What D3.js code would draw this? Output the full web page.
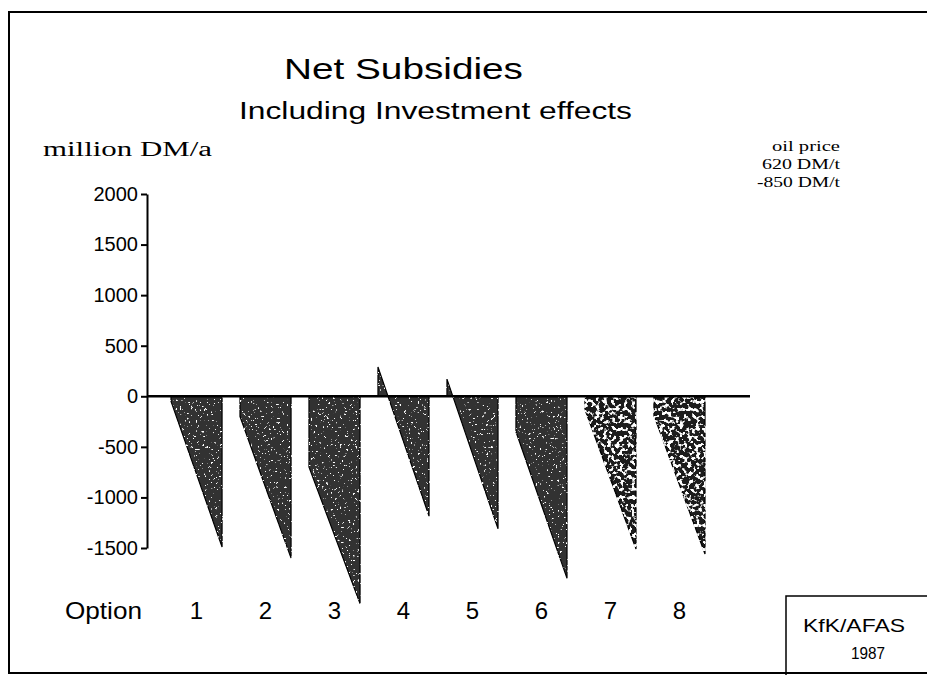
<!DOCTYPE html>
<meta charset="utf-8">
<style>
body { margin: 0; background: #fff; }
.axis .domain { stroke: #000; stroke-width: 2; }
.axis .tick line { stroke: #000; stroke-width: 2; }
.axis text { font-family: "Liberation Sans", Arial, sans-serif; font-size: 20px; fill: #000; }
.xaxis .domain { display: none; }
.xaxis text { font-family: "Liberation Sans", Arial, sans-serif; font-size: 24px; fill: #000; }
.serif { font-family: "Liberation Serif", "DejaVu Serif", serif; fill: #000; }
.sans { font-family: "Liberation Sans", Arial, sans-serif; fill: #000; }
</style>
<svg width="927" height="675"></svg>
<script src="https://cdn.jsdelivr.net/npm/d3@7"></script>
<script>
// net subsidies in million DM/a, oil price 620 DM/t (left) -> 850 DM/t (right)
var options = ["1", "2", "3", "4", "5", "6", "7", "8"];
var at620 = [-50, -200, -700, 290, 170, -350, -130, -190];
var at850 = [-1490, -1600, -2050, -1185, -1310, -1800, -1510, -1560];
var yTicks = [-1500, -1000, -500, 0, 500, 1000, 1500, 2000];

var svg = d3.select("svg");

var x = d3.scaleBand()
    .domain(options)
    .range([171, 705])
    .paddingInner(0.26)
    .paddingOuter(0);

var y = d3.scaleLinear()
    .domain([-1500, 2000])
    .range([548, 194]);

var axisX = 147;

// frame
svg.append("path")
    .attr("d", "M927,12 L9,12 L9,673 L927,673")
    .attr("fill", "none")
    .attr("stroke", "#000")
    .attr("stroke-width", 2);

// speckle texture
var defs = svg.append("defs");
function speckle(id, freq, slope, cut) {
  var f = defs.append("filter").attr("id", id)
      .attr("x", "-5%").attr("y", "-5%").attr("width", "110%").attr("height", "110%");
  f.append("feTurbulence")
      .attr("type", "fractalNoise")
      .attr("baseFrequency", freq)
      .attr("numOctaves", 2)
      .attr("seed", 7)
      .attr("result", "noise");
  f.append("feColorMatrix")
      .attr("in", "noise")
      .attr("type", "matrix")
      .attr("values", "0 0 0 0 1  0 0 0 0 1  0 0 0 0 1  " + slope + " 0 0 0 " + (-cut * slope))
      .attr("result", "spots");
  f.append("feComposite")
      .attr("in", "spots").attr("in2", "SourceAlpha")
      .attr("operator", "in").attr("result", "clipped");
  var m = f.append("feMerge");
  m.append("feMergeNode").attr("in", "SourceGraphic");
  m.append("feMergeNode").attr("in", "clipped");
}
speckle("speckFine", 0.45, 14, 0.67);
speckle("speckCoarse", 0.25, 10, 0.52);

var area = d3.area()
    .x(function(d) { return d.x; })
    .y0(y(0))
    .y1(function(d) { return y(d.v); });

svg.append("g")
  .selectAll("path")
  .data(options)
  .enter().append("path")
    .attr("d", function(d, i) {
      return area([{x: x(d), v: at620[i]}, {x: x(d) + x.bandwidth(), v: at850[i]}]);
    })
    .attr("fill", function(d, i) { return i >= 6 ? "#1a1a1a" : "#333"; })
    .attr("stroke", "#000")
    .attr("stroke-width", 1.2)
    .attr("filter", function(d, i) { return i >= 6 ? "url(#speckCoarse)" : "url(#speckFine)"; });

// zero line
svg.append("line")
    .attr("x1", axisX).attr("x2", 750)
    .attr("y1", y(0)).attr("y2", y(0))
    .attr("stroke", "#000")
    .attr("stroke-width", 2.5);

// y axis
svg.append("g")
    .attr("class", "axis")
    .attr("transform", "translate(" + axisX + ",0)")
    .call(d3.axisLeft(y).tickValues(yTicks).tickSize(6).tickSizeOuter(0).tickPadding(3)
      .tickFormat(function(d) { return String(d); }));

// option labels
var xa = svg.append("g")
    .attr("class", "xaxis")
    .attr("transform", "translate(0,619)")
    .call(d3.axisBottom(x).tickSize(0).tickPadding(0));
xa.selectAll(".tick text").attr("dy", "0");

svg.append("text").attr("class", "sans")
    .attr("x", 65).attr("y", 619)
    .attr("font-size", 24)
    .attr("textLength", 77).attr("lengthAdjust", "spacingAndGlyphs")
    .text("Option");

// titles
svg.append("text").attr("class", "sans")
    .attr("x", 284).attr("y", 79)
    .attr("font-size", 29)
    .attr("textLength", 239).attr("lengthAdjust", "spacingAndGlyphs")
    .text("Net Subsidies");
svg.append("text").attr("class", "sans")
    .attr("x", 239).attr("y", 119)
    .attr("font-size", 23)
    .attr("textLength", 393).attr("lengthAdjust", "spacingAndGlyphs")
    .text("Including Investment effects");

svg.append("text").attr("class", "serif")
    .attr("x", 43).attr("y", 156)
    .attr("font-size", 20)
    .attr("textLength", 169).attr("lengthAdjust", "spacingAndGlyphs")
    .text("million DM/a");

var oilLines = ["oil price", "620 DM/t", "-850 DM/t"];
var oilWidths = [68, 78, 83];
svg.append("g")
  .selectAll("text")
  .data(oilLines)
  .enter().append("text")
    .attr("class", "serif")
    .attr("x", function(d, i) { return 840 - oilWidths[i]; })
    .attr("y", function(d, i) { return 151 + i * 18; })
    .attr("font-size", 15)
    .attr("textLength", function(d, i) { return oilWidths[i]; })
    .attr("lengthAdjust", "spacingAndGlyphs")
    .text(function(d) { return d; });

// source box
svg.append("rect")
    .attr("x", 786).attr("y", 596)
    .attr("width", 150).attr("height", 80)
    .attr("fill", "none")
    .attr("stroke", "#000")
    .attr("stroke-width", 1.5);
svg.append("text").attr("class", "sans")
    .attr("x", 803).attr("y", 632)
    .attr("font-size", 19)
    .attr("textLength", 102).attr("lengthAdjust", "spacingAndGlyphs")
    .text("KfK/AFAS");
svg.append("text").attr("class", "sans")
    .attr("x", 851).attr("y", 659)
    .attr("font-size", 17)
    .attr("textLength", 34).attr("lengthAdjust", "spacingAndGlyphs")
    .text("1987");
</script>
